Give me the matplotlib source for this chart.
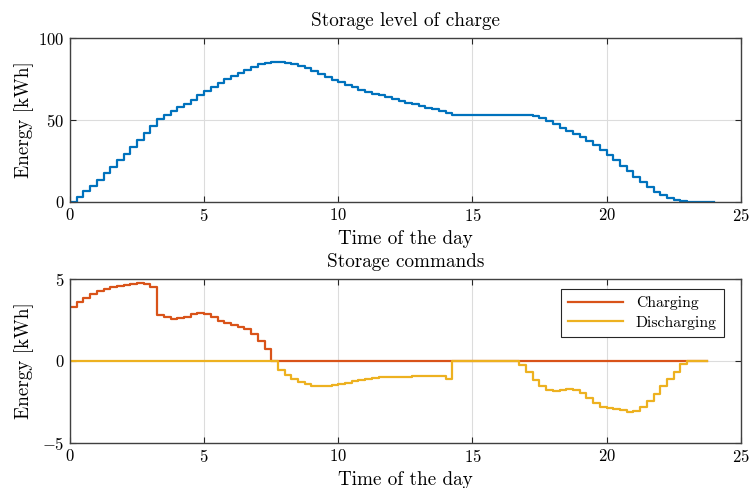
import numpy as np
import matplotlib
matplotlib.use('Agg')
from matplotlib import pyplot as plt

plt.rcParams['font.family'] = 'cmr10'
plt.rcParams['mathtext.fontset'] = 'cm'
plt.rcParams['axes.formatter.use_mathtext'] = True

# storage commands per 15-minute slot [kWh]
charging = [3.31, 3.62, 3.86, 4.10, 4.29, 4.41, 4.49, 4.55, 4.61, 4.71,
            4.76, 4.70, 4.51, 2.80, 2.66, 2.58, 2.59, 2.70, 2.85, 2.95,
            2.87, 2.66, 2.46, 2.30, 2.18, 2.05, 1.95, 1.65, 1.24, 0.73] + [0.0] * 66

discharging = ([0.0] * 31 +
               [-0.55, -0.85, -1.12, -1.30, -1.44, -1.52, -1.56, -1.56, -1.50, -1.42,
                -1.34, -1.23, -1.14, -1.08, -1.03, -1.00, -0.99, -0.98, -0.97, -0.96,
                -0.95, -0.93, -0.91, -0.91, -0.93, -1.08] +
               [0.0] * 10 +
               [-0.24, -0.65, -1.14, -1.54, -1.77, -1.83, -1.79, -1.73, -1.77, -1.97,
                -2.28, -2.58, -2.80, -2.88, -2.95, -3.03, -3.10, -3.04, -2.82, -2.44,
                -2.03, -1.54, -1.10, -0.65, -0.18] +
               [0.0] * 4)

# storage level at each slot boundary [kWh]
storage = ([0.0, 2.98, 6.24, 9.71, 13.40, 17.26, 21.23, 25.27, 29.37, 33.52,
            37.76, 42.04, 46.27, 50.33, 52.85, 55.24, 57.56, 59.89, 62.32, 64.89,
            67.54, 70.12, 72.52, 74.73, 76.80, 78.76, 80.61, 82.36, 83.84, 84.96,
            85.62, 85.62,
            85.01, 84.07, 82.82, 81.38, 79.78, 78.09, 76.36, 74.63, 72.96, 71.38,
            69.89, 68.53, 67.26, 66.06, 64.91, 63.80, 62.70, 61.61, 60.54, 59.47,
            58.42, 57.38, 56.37, 55.36, 54.32, 53.12] +
           [53.12] * 10 +
           [52.85, 52.13, 50.86, 49.15, 47.18, 45.15, 43.16, 41.24, 39.27, 37.08,
            34.55, 31.68, 28.57, 25.37, 22.09, 18.72, 15.28, 11.90, 8.77, 6.06,
            3.80, 2.09, 0.87, 0.15] +
           [0.0] * 5)

t_cmd = np.arange(len(charging)) * 0.25
t_soc = np.arange(len(storage)) * 0.25

blue = '#0072BD'
red = '#D95319'
yellow = '#EDB120'
axcol = '#404040'


def style_axes(ax, yticks):
    ax.set_xlim(0, 25)
    ax.set_xticks([0, 5, 10, 15, 20, 25])
    ax.set_yticks(yticks)
    ax.set_ylim(yticks[0], yticks[-1])
    ax.grid(True, color='#dcdcdc', linewidth=0.8)
    ax.set_axisbelow(True)
    for s in ax.spines.values():
        s.set_color(axcol)
        s.set_linewidth(1.0)
    ax.tick_params(direction='in', top=True, right=True, length=4,
                   width=0.8, color='#262626', labelsize=12, pad=4)
    ax.set_xlabel('Time of the day', fontsize=13.8, labelpad=4)
    ax.set_ylabel('Energy [kWh]', fontsize=13.8)
    ax.yaxis.set_label_coords(-0.054, 0.5)


fig = plt.figure(figsize=(7.51, 4.88), dpi=100)
ax1 = fig.add_axes([0.0932, 0.5867, 0.8931, 0.3354])
ax2 = fig.add_axes([0.0932, 0.0928, 0.8931, 0.3354])

ax1.step(t_soc, storage, where='post', color=blue, linewidth=1.6)
style_axes(ax1, [0, 50, 100])
ax1.set_title('Storage level of charge', fontsize=13.8, pad=9)

ax2.step(t_cmd, charging, where='post', color=red, linewidth=1.6, label='Charging')
ax2.step(t_cmd, discharging, where='post', color=yellow, linewidth=1.6, label='Discharging')
style_axes(ax2, [-5, 0, 5])
ax2.set_title('Storage commands', fontsize=13.8, pad=9)
leg = ax2.legend(loc='upper right', fontsize=11.3, fancybox=False, framealpha=1,
                 edgecolor='#262626', handlelength=3.5, borderpad=0.45,
                 labelspacing=0.35, borderaxespad=0,
                 bbox_to_anchor=(0.975, 0.939))
leg.get_frame().set_linewidth(0.8)

fig.savefig('out.png', dpi=100)
